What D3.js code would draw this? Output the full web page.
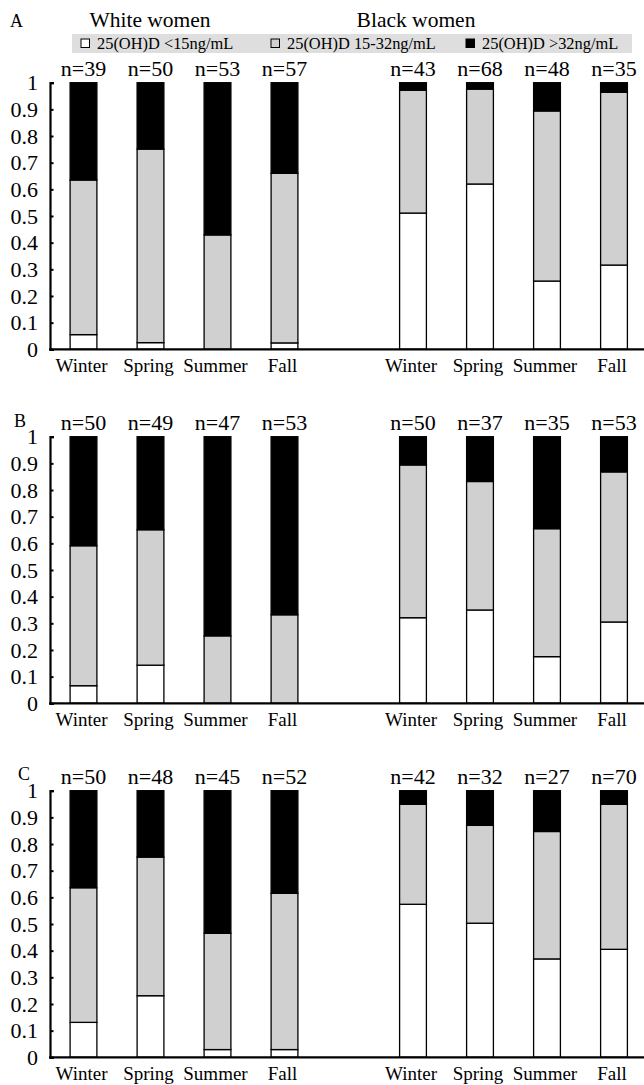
<!DOCTYPE html>
<html>
<head>
<meta charset="utf-8">
<script src="https://cdn.jsdelivr.net/npm/d3@7"></script>
<style>
  html, body { margin: 0; padding: 0; background: #fff; }
  svg { display: block; }
  text { font-family: "Liberation Serif", "Times New Roman", serif; fill: #000; }
</style>
</head>
<body>
<svg id="chart" width="644" height="1085" font-family="'Liberation Serif', serif"></svg>
<script>
// ---------- DATA ----------
const categories = ["Winter", "Spring", "Summer", "Fall"];
const groups = ["White women", "Black women"];
const panelLabels = ["A", "B", "C"];
const seriesKeys = ["low", "mid", "high"];
const seriesLabels = ["25(OH)D <15ng/mL", "25(OH)D 15-32ng/mL", "25(OH)D >32ng/mL"];
const yTicks = [0, 0.1, 0.2, 0.3, 0.4, 0.5, 0.6, 0.7, 0.8, 0.9, 1];

// Panel A
const aWhiteLow  = [0.055, 0.025, 0.000, 0.024];
const aWhiteMid  = [0.580, 0.726, 0.429, 0.636];
const aWhiteHigh = [0.365, 0.249, 0.571, 0.340];
const aBlackLow  = [0.511, 0.620, 0.256, 0.316];
const aBlackMid  = [0.461, 0.356, 0.638, 0.648];
const aBlackHigh = [0.028, 0.024, 0.106, 0.036];
const aWhiteN = [39, 50, 53, 57];
const aBlackN = [43, 68, 48, 35];

// Panel B
const bWhiteLow  = [0.066, 0.143, 0.000, 0.000];
const bWhiteMid  = [0.525, 0.508, 0.253, 0.332];
const bWhiteHigh = [0.409, 0.349, 0.747, 0.668];
const bBlackLow  = [0.321, 0.350, 0.175, 0.305];
const bBlackMid  = [0.573, 0.482, 0.480, 0.563];
const bBlackHigh = [0.106, 0.168, 0.345, 0.132];
const bWhiteN = [50, 49, 47, 53];
const bBlackN = [50, 37, 35, 53];

// Panel C
const cWhiteLow  = [0.131, 0.231, 0.029, 0.029];
const cWhiteMid  = [0.505, 0.520, 0.436, 0.586];
const cWhiteHigh = [0.364, 0.249, 0.535, 0.385];
const cBlackLow  = [0.574, 0.503, 0.369, 0.405];
const cBlackMid  = [0.375, 0.367, 0.478, 0.544];
const cBlackHigh = [0.051, 0.130, 0.153, 0.051];
const cWhiteN = [50, 48, 45, 52];
const cBlackN = [42, 32, 27, 70];

// ---------- BUILD TABLES ----------
function rows(low, mid, high, n) {
  return categories.map((c, i) => ({ season: c, low: low[i], mid: mid[i], high: high[i], n: n[i] }));
}
const panels = [
  { label: panelLabels[0], white: rows(aWhiteLow, aWhiteMid, aWhiteHigh, aWhiteN), black: rows(aBlackLow, aBlackMid, aBlackHigh, aBlackN) },
  { label: panelLabels[1], white: rows(bWhiteLow, bWhiteMid, bWhiteHigh, bWhiteN), black: rows(bBlackLow, bBlackMid, bBlackHigh, bBlackN) },
  { label: panelLabels[2], white: rows(cWhiteLow, cWhiteMid, cWhiteHigh, cWhiteN), black: rows(cBlackLow, cBlackMid, cBlackHigh, cBlackN) }
];

// ---------- LAYOUT ----------
const svg = d3.select("#chart");
const fills = { low: "#ffffff", mid: "#d0d0d0", high: "#000000" };
const axisX = 50;
const panelTop0 = 82.7;
const panelStep = 354;
const plotH = 266.6;

const xWhite = d3.scaleBand().domain(categories).range([50, 318]).paddingInner(0.6).paddingOuter(0.3);
const xBlack = d3.scaleBand().domain(categories).range([379.5, 647.5]).paddingInner(0.6).paddingOuter(0.3);
const xScales = [xWhite, xBlack];

const stack = d3.stack().keys(seriesKeys);

// Titles
const titleX = [150, 416];
groups.forEach((g, i) => {
  svg.append("text").attr("x", titleX[i]).attr("y", 27)
    .attr("text-anchor", "middle").style("font-size", "21.5px").text(g);
});

// Legend
const legend = svg.append("g");
legend.append("rect").attr("x", 72).attr("y", 34).attr("width", 560).attr("height", 19).attr("fill", "#dedede");
const legendX = [81, 271, 466];
seriesKeys.forEach((k, i) => {
  legend.append("rect").attr("x", legendX[i]).attr("y", 39).attr("width", 8.5).attr("height", 8.5)
    .attr("fill", fills[k]).attr("stroke", "#000").attr("stroke-width", 1);
  legend.append("text").attr("x", legendX[i] + 16).attr("y", 48.5)
    .style("font-size", "16.4px").text(seriesLabels[i]);
});

const labelPos = [[10, 27], [14, 427], [18, 780]];

panels.forEach((p, pi) => {
  const top = panelTop0 + pi * panelStep;
  const zero = top + plotH;
  const y = d3.scaleLinear().domain([0, 1]).range([zero, top]);
  const g = svg.append("g");

  // Panel letter
  g.append("text").attr("x", labelPos[pi][0]).attr("y", labelPos[pi][1])
    .style("font-size", "18px").text(p.label);

  // Y axis
  const yAxis = d3.axisLeft(y).tickValues(yTicks)
    .tickFormat(d => String(+d.toFixed(1)))
    .tickSizeInner(-3.5).tickSizeOuter(-4).tickPadding(12);
  const ya = g.append("g").attr("transform", `translate(${axisX},0)`).call(yAxis)
    .attr("font-family", "'Liberation Serif', serif");
  ya.select(".domain").attr("stroke", "#000").attr("stroke-width", 2.2);
  ya.selectAll(".tick line").attr("stroke", "#000").attr("stroke-width", 2);
  ya.selectAll(".tick text").style("font-size", "22px").attr("fill", "#000");

  [p.white, p.black].forEach((data, gi) => {
    const x = xScales[gi];
    const layers = stack(data);
    layers.forEach(layer => {
      g.append("g").selectAll("rect").data(layer).join("rect")
        .attr("x", d => x(d.data.season))
        .attr("width", x.bandwidth())
        .attr("y", d => y(d[1]))
        .attr("height", d => Math.max(0, y(d[0]) - y(d[1])))
        .attr("fill", fills[layer.key])
        .attr("stroke", "#000")
        .attr("stroke-width", 1.3);
    });
    // n labels
    g.append("g").selectAll("text").data(data).join("text")
      .attr("x", d => x(d.season) + x.bandwidth() / 2)
      .attr("y", top - 7)
      .attr("text-anchor", "middle")
      .style("font-size", "22px")
      .text(d => "n=" + d.n);
    // category labels
    g.append("g").selectAll("text").data(categories).join("text")
      .attr("x", c => x(c) + x.bandwidth() / 2 - 2)
      .attr("y", zero + 23)
      .attr("text-anchor", "middle")
      .style("font-size", "19px")
      .text(c => c);
  });

  // X axis baseline
  g.append("line").attr("x1", axisX - 1).attr("x2", 644)
    .attr("y1", zero).attr("y2", zero)
    .attr("stroke", "#000").attr("stroke-width", 2.2);
});
</script>
</body>
</html>
